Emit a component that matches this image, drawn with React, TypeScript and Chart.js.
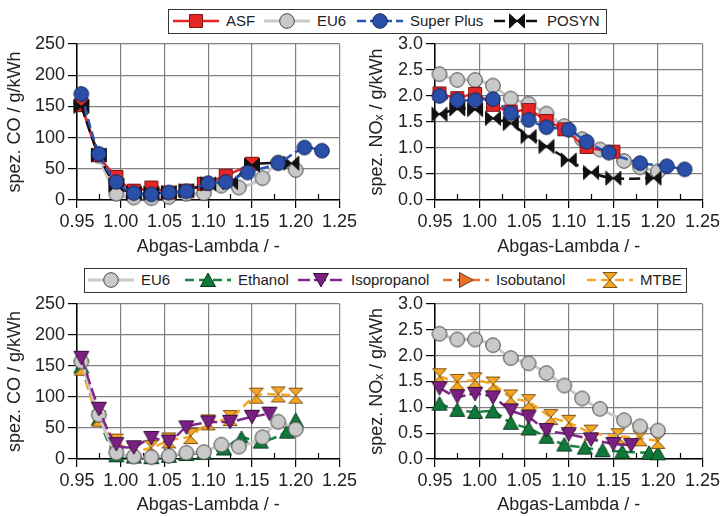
import React, { useEffect, useRef } from 'react';
import { Chart, registerables } from 'chart.js';
Chart.register(...registerables);

const FONT = '"Liberation Sans", Arial, Helvetica, sans-serif';

// ---------- data ----------
const xTicks = [0.95, 1.0, 1.05, 1.1, 1.15, 1.2, 1.25];

const asfLambda = [0.955, 0.975, 0.995, 1.015, 1.035, 1.055, 1.075, 1.095, 1.12, 1.15];
const asfCO = [152, 72, 37, 15, 20, 12, 15, 26, 39, 58];
const asfNOx = [2.05, 1.96, 2.04, 1.83, 1.7, 1.73, 1.52, 1.36, 1.02, 0.93];

const eu6Lambda = [0.955, 0.975, 0.995, 1.015, 1.035, 1.055, 1.075, 1.095, 1.115, 1.135, 1.162, 1.18, 1.2];
const eu6CO = [157, 71, 10, 4, 3, 5, 10, 11, 23, 20, 35, 60, 48];
const eu6NOx = [2.42, 2.31, 2.31, 2.2, 1.95, 1.85, 1.66, 1.42, 1.17, 0.97, 0.75, 0.63, 0.55];

const spLambda = [0.955, 0.975, 0.995, 1.015, 1.035, 1.055, 1.075, 1.1, 1.12, 1.145, 1.18, 1.21, 1.23];
const spCO = [170, 74, 29, 11, 9, 12, 14, 27, 29, 44, 59, 84, 79];
const spNOx = [2.0, 1.92, 1.92, 1.94, 1.67, 1.54, 1.4, 1.35, 1.12, 0.91, 0.71, 0.65, 0.59];

const posLambda = [0.955, 0.975, 0.995, 1.015, 1.035, 1.055, 1.075, 1.1, 1.125, 1.15, 1.195];
const posCO = [150, 72, 24, 11, 11, 12, 15, 26, 28, 56, 59];
const posNOx = [1.65, 1.75, 1.74, 1.57, 1.47, 1.22, 1.03, 0.77, 0.53, 0.42, 0.42];

const ethLambda = [0.955, 0.975, 0.995, 1.015, 1.035, 1.055, 1.075, 1.095, 1.118, 1.138, 1.16, 1.19, 1.2];
const ethCO = [149, 65, 6, 4, 3, 5, 8, 10, 17, 34, 28, 44, 63];
const ethNOx = [1.07, 0.95, 0.91, 0.92, 0.7, 0.59, 0.43, 0.28, 0.22, 0.17, 0.14, 0.12, 0.11];

const iprLambda = [0.955, 0.975, 0.995, 1.015, 1.035, 1.055, 1.075, 1.1, 1.125, 1.15, 1.17];
const iprCO = [163, 81, 24, 19, 34, 28, 51, 59, 60, 68, 73];
const iprNOx = [1.37, 1.21, 1.26, 1.19, 0.94, 0.81, 0.56, 0.48, 0.38, 0.29, 0.27];

const ibuLambda: number[] = [];
const ibuCO: number[] = [];
const ibuNOx: number[] = [];

const mtbeLambda = [0.955, 0.975, 0.995, 1.015, 1.035, 1.055, 1.08, 1.1, 1.125, 1.155, 1.18, 1.2];
const mtbeCO = [147, 65, 28, 14, 18, 30, 37, 59, 66, 102, 104, 102];
const mtbeNOx = [1.6, 1.49, 1.52, 1.44, 1.19, 1.1, 0.81, 0.7, 0.51, 0.44, 0.4, 0.35];

// ---------- styles ----------
type Kind = 'circle' | 'square' | 'triUp' | 'triDown' | 'triRight' | 'bowtie' | 'hourglass';
interface Sty { kind: Kind; fill: string; stroke: string; line: string; dash: number[]; width: number }

const S: Record<string, Sty> = {
  asf: { kind: 'square', fill: '#e82525', stroke: '#7e1414', line: '#e82525', dash: [], width: 2.5 },
  eu6: { kind: 'circle', fill: '#c9c9c9', stroke: '#444', line: '#c9c9c9', dash: [], width: 3 },
  sp: { kind: 'circle', fill: '#2a4fa8', stroke: '#17275a', line: '#2a55b5', dash: [9, 4], width: 2.5 },
  pos: { kind: 'bowtie', fill: '#111', stroke: '#111', line: '#111', dash: [11, 5], width: 2.5 },
  eth: { kind: 'triUp', fill: '#10793a', stroke: '#0a3a1c', line: '#13853f', dash: [9, 5], width: 2.5 },
  ipr: { kind: 'triDown', fill: '#7a2080', stroke: '#3a0f40', line: '#80288a', dash: [12, 4], width: 2.5 },
  ibu: { kind: 'triRight', fill: '#e4702a', stroke: '#7a3410', line: '#e4702a', dash: [9, 5], width: 2.5 },
  mtbe: { kind: 'hourglass', fill: '#f6a623', stroke: '#7e5212', line: '#f6a623', dash: [9, 5], width: 2.5 },
};

function pathFor(kind: Kind, cx: number, cy: number): string {
  switch (kind) {
    case 'square':
      return `M${cx - 6.5},${cy - 6.5}h13v13h-13z`;
    case 'triUp':
      return `M${cx},${cy - 7}L${cx + 7.5},${cy + 6.5}L${cx - 7.5},${cy + 6.5}z`;
    case 'triDown':
      return `M${cx - 7.5},${cy - 6.5}L${cx + 7.5},${cy - 6.5}L${cx},${cy + 7}z`;
    case 'triRight':
      return `M${cx - 6.5},${cy - 7.5}L${cx + 7},${cy}L${cx - 6.5},${cy + 7.5}z`;
    case 'bowtie':
      return `M${cx - 7.5},${cy - 7}L${cx},${cy}L${cx - 7.5},${cy + 7}zM${cx + 7.5},${cy - 7}L${cx},${cy}L${cx + 7.5},${cy + 7}z`;
    case 'hourglass':
      return `M${cx - 7},${cy - 7.5}L${cx + 7},${cy - 7.5}L${cx},${cy}zM${cx - 7},${cy + 7.5}L${cx + 7},${cy + 7.5}L${cx},${cy}z`;
    default:
      return '';
  }
}

function makeMarker(st: Sty): HTMLCanvasElement {
  const c = document.createElement('canvas');
  c.width = 18;
  c.height = 18;
  const ctx = c.getContext('2d')!;
  ctx.fillStyle = st.fill;
  ctx.strokeStyle = st.stroke;
  ctx.lineWidth = 1;
  ctx.lineJoin = 'miter';
  if (st.kind === 'circle') {
    ctx.beginPath();
    ctx.arc(9, 9, 7.3, 0, Math.PI * 2);
    ctx.fill();
    ctx.stroke();
  } else {
    const p = new Path2D(pathFor(st.kind, 9, 9));
    ctx.fill(p);
    ctx.stroke(p);
  }
  return c;
}

function ds(label: string, st: Sty, xs: number[], ys: number[], order: number) {
  return {
    label,
    data: xs.map((x, i) => ({ x, y: ys[i] })),
    borderColor: st.line,
    backgroundColor: st.fill,
    borderWidth: st.width,
    borderDash: st.dash,
    tension: 0.3,
    pointStyle: makeMarker(st),
    pointRadius: 7,
    pointHoverRadius: 7,
    order,
    clip: false as any,
  };
}

const minorTicks = {
  id: 'minorTicks',
  beforeDatasetsDraw(chart: any) {
    const { ctx, chartArea, scales } = chart;
    const x = scales.x;
    ctx.save();
    ctx.strokeStyle = '#000';
    ctx.lineWidth = 1.2;
    for (let i = 0; i < 6; i++) {
      const v = 0.975 + i * 0.05;
      const px = Math.round(x.getPixelForValue(v)) + 0.5;
      ctx.beginPath();
      ctx.moveTo(px, chartArea.bottom);
      ctx.lineTo(px, chartArea.bottom - 6);
      ctx.stroke();
    }
    ctx.restore();
  },
};

interface PanelProps {
  left: number; top: number; width: number; height: number;
  yw: number; xh: number; padTop: number; padRight: number;
  yTitlePad: number; xTitlePad: number;
  yMax: number; yStep: number; yDec: number; yTitle: string;
  datasets: any[];
}

function Panel(p: PanelProps) {
  const ref = useRef<HTMLCanvasElement>(null);
  useEffect(() => {
    const font = { family: FONT, size: 18 };
    const chart = new Chart(ref.current!, {
      type: 'line',
      data: { datasets: p.datasets },
      plugins: [minorTicks],
      options: {
        animation: false,
        responsive: false,
        maintainAspectRatio: false,
        events: [],
        layout: { padding: { top: p.padTop, right: p.padRight, left: 0, bottom: 0 } },
        plugins: { legend: { display: false }, tooltip: { enabled: false } },
        scales: {
          x: {
            type: 'linear',
            min: 0.95,
            max: 1.25,
            afterBuildTicks: (s: any) => { s.ticks = xTicks.map((v) => ({ value: v })); },
            ticks: {
              font,
              color: '#222',
              padding: 3,
              maxRotation: 0,
              autoSkip: false,
              callback: (v: any) => Number(v).toFixed(2),
            },
            grid: { color: '#808080', lineWidth: 1.2, tickLength: 8, tickColor: '#000', tickWidth: 1.2 },
            border: { color: '#000', width: 1.5 },
            title: { display: true, text: 'Abgas-Lambda / -', font, color: '#222', padding: { top: 0, bottom: p.xTitlePad } },
            afterFit: (s: any) => { s.height = p.xh; },
          },
          y: {
            type: 'linear',
            min: 0,
            max: p.yMax,
            ticks: {
              stepSize: p.yStep,
              font,
              color: '#222',
              padding: 3,
              callback: (v: any) => Number(v).toFixed(p.yDec),
            },
            grid: { color: '#808080', lineWidth: 1.2, tickLength: 9, tickColor: '#000', tickWidth: 1.2 },
            border: { color: '#000', width: 1.5 },
            title: { display: true, text: p.yTitle, font, color: '#222', padding: { top: p.yTitlePad, bottom: 0 } },
            afterFit: (s: any) => { s.width = p.yw; },
          },
        },
      } as any,
    });
    return () => chart.destroy();
  }, []);
  return (
    <canvas
      ref={ref}
      width={p.width}
      height={p.height}
      style={{ position: 'absolute', left: p.left, top: p.top, width: p.width, height: p.height }}
    />
  );
}

function LegendMarker({ st }: { st: Sty }) {
  const cx = 23, cy = 10;
  return (
    <svg width={46} height={20} style={{ display: 'block' }}>
      <line x1={0} y1={cy} x2={46} y2={cy} stroke={st.line} strokeWidth={st.width} strokeDasharray={st.dash.length ? st.dash.join(' ') : undefined} />
      {st.kind === 'circle' ? (
        <circle cx={cx} cy={cy} r={7.3} fill={st.fill} stroke={st.stroke} strokeWidth={1} />
      ) : (
        <path d={pathFor(st.kind, cx, cy)} fill={st.fill} stroke={st.stroke} strokeWidth={1} />
      )}
    </svg>
  );
}

interface LItem { label: string; st: Sty; x: number }

function Legend({ box, items, cy }: { box: { l: number; t: number; w: number; h: number }; items: LItem[]; cy: number }) {
  return (
    <>
      <div style={{ position: 'absolute', left: box.l, top: box.t, width: box.w, height: box.h, border: '1px solid #333', background: '#fff', boxSizing: 'border-box' }} />
      {items.map((it) => (
        <div key={it.label} style={{ position: 'absolute', left: it.x, top: cy - 10, height: 20, display: 'flex', alignItems: 'center', whiteSpace: 'nowrap' }}>
          <LegendMarker st={it.st} />
          <span style={{ marginLeft: 7, font: `15px ${FONT}`, color: '#222', lineHeight: '20px' }}>{it.label}</span>
        </div>
      ))}
    </>
  );
}

export default function App() {
  const topCO = [
    ds('Super Plus', S.sp, spLambda, spCO, 0),
    ds('POSYN', S.pos, posLambda, posCO, 1),
    ds('ASF', S.asf, asfLambda, asfCO, 2),
    ds('EU6', S.eu6, eu6Lambda, eu6CO, 3),
  ];
  const topNOx = [
    ds('Super Plus', S.sp, spLambda, spNOx, 0),
    ds('POSYN', S.pos, posLambda, posNOx, 1),
    ds('ASF', S.asf, asfLambda, asfNOx, 2),
    ds('EU6', S.eu6, eu6Lambda, eu6NOx, 3),
  ];
  const botCO = [
    ds('Isopropanol', S.ipr, iprLambda, iprCO, 0),
    ds('EU6', S.eu6, eu6Lambda, eu6CO, 1),
    ds('MTBE', S.mtbe, mtbeLambda, mtbeCO, 2),
    ds('Ethanol', S.eth, ethLambda, ethCO, 3),
    ds('Isobutanol', S.ibu, ibuLambda, ibuCO, 4),
  ];
  const botNOx = [
    ds('Isopropanol', S.ipr, iprLambda, iprNOx, 0),
    ds('EU6', S.eu6, eu6Lambda, eu6NOx, 1),
    ds('MTBE', S.mtbe, mtbeLambda, mtbeNOx, 2),
    ds('Ethanol', S.eth, ethLambda, ethNOx, 3),
    ds('Isobutanol', S.ibu, ibuLambda, ibuNOx, 4),
  ];
  const coTitle = 'spez. CO / g/kWh';
  const noxTitle = 'spez. NO\u2093 / g/kWh';
  return (
    <div style={{ position: 'absolute', left: 0, top: 0, width: 723, height: 517, background: '#fff', overflow: 'hidden' }}>
      <Panel left={0} top={30} width={360} height={234} yw={77} xh={64} padTop={14} padRight={15} yTitlePad={4} xTitlePad={6}
        yMax={250} yStep={50} yDec={0} yTitle={coTitle} datasets={topCO} />
      <Panel left={360} top={30} width={363} height={234} yw={75} xh={64} padTop={14} padRight={20} yTitlePad={6} xTitlePad={6}
        yMax={3} yStep={0.5} yDec={1} yTitle={noxTitle} datasets={topNOx} />
      <Panel left={0} top={290} width={360} height={227} yw={77} xh={58} padTop={12} padRight={15} yTitlePad={4} xTitlePad={1}
        yMax={250} yStep={50} yDec={0} yTitle={coTitle} datasets={botCO} />
      <Panel left={360} top={290} width={363} height={227} yw={75} xh={58} padTop={13} padRight={20} yTitlePad={6} xTitlePad={1}
        yMax={3} yStep={0.5} yDec={1} yTitle={noxTitle} datasets={botNOx} />
      <Legend
        box={{ l: 168, t: 9, w: 439, h: 25 }}
        cy={21}
        items={[
          { label: 'ASF', st: S.asf, x: 173 },
          { label: 'EU6', st: S.eu6, x: 264 },
          { label: 'Super Plus', st: S.sp, x: 357 },
          { label: 'POSYN', st: S.pos, x: 494 },
        ]}
      />
      <Legend
        box={{ l: 84, t: 268, w: 603, h: 25 }}
        cy={280}
        items={[
          { label: 'EU6', st: S.eu6, x: 88 },
          { label: 'Ethanol', st: S.eth, x: 185 },
          { label: 'Isopropanol', st: S.ipr, x: 298 },
          { label: 'Isobutanol', st: S.ibu, x: 443 },
          { label: 'MTBE', st: S.mtbe, x: 587 },
        ]}
      />
    </div>
  );
}
